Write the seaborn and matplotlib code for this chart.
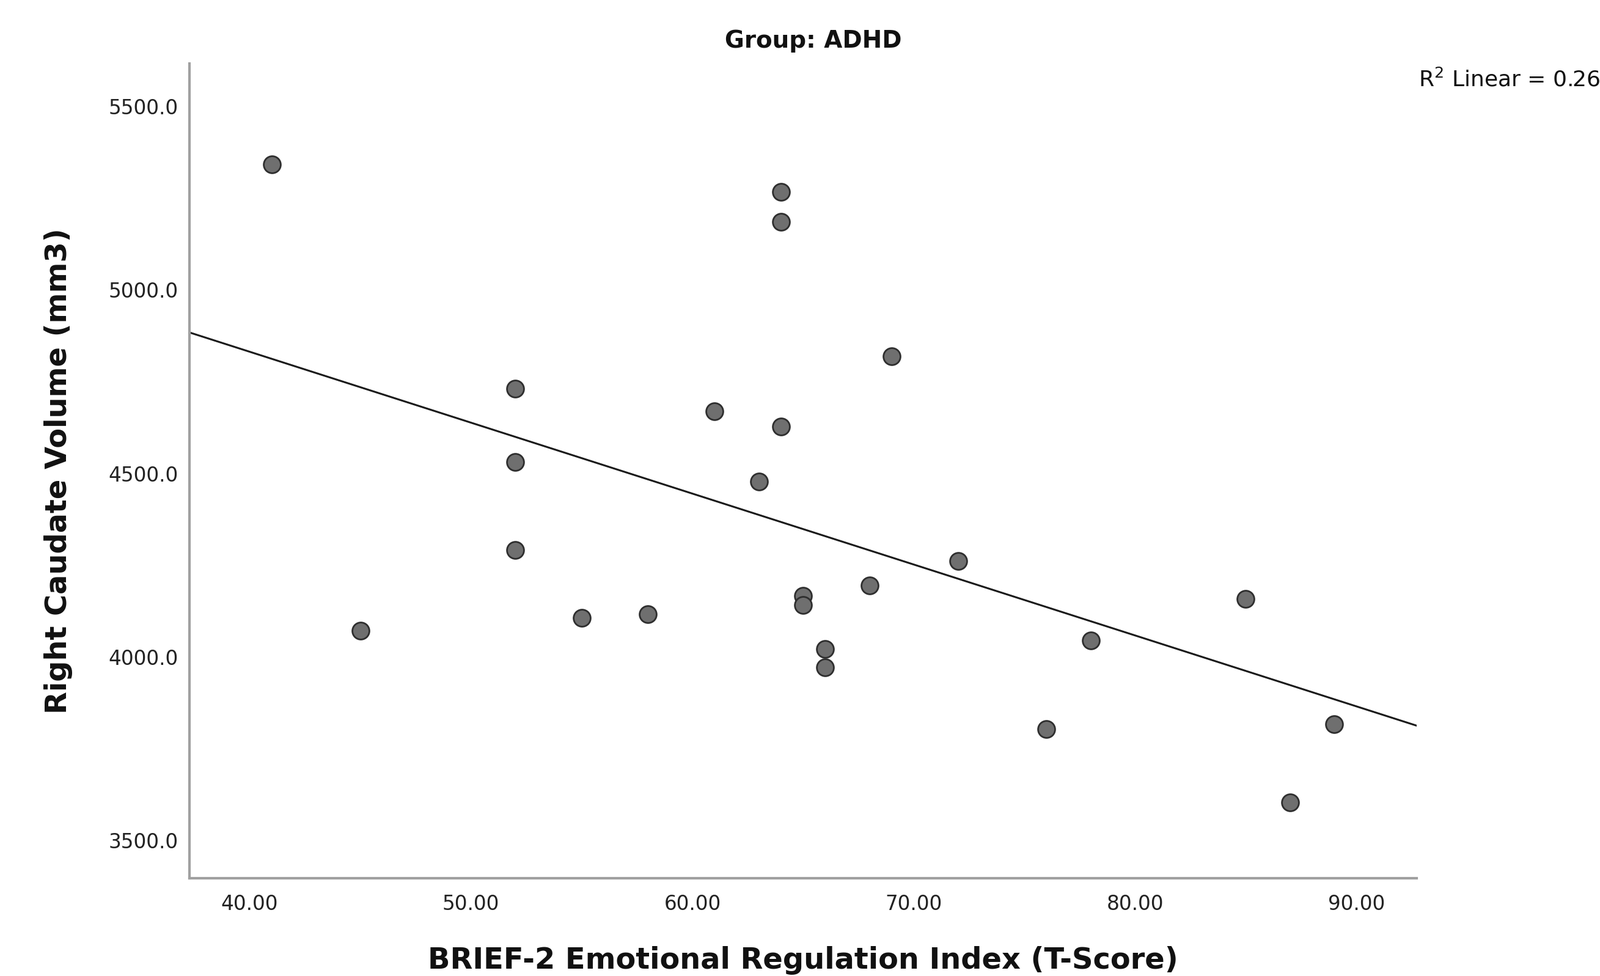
import numpy as np
import pandas as pd
import matplotlib
matplotlib.use("Agg")
import matplotlib.pyplot as plt
import seaborn as sns
from matplotlib.ticker import FormatStrFormatter

# values
brief_er = [41, 45, 52, 52, 52, 55, 58, 61, 63, 64, 64, 64,
            65, 65, 66, 66, 68, 69, 72, 76, 78, 85, 87, 89]
caudate_r = [5342, 4072, 4731, 4531, 4292, 4106, 4117, 4669, 4478, 5267, 5186, 4628,
             4167, 4142, 4022, 3972, 4194, 4819, 4261, 3803, 4044, 4158, 3603, 3817]

X_TICKS = [40, 50, 60, 70, 80, 90]
Y_TICKS = [3500, 4000, 4500, 5000, 5500]

df = pd.DataFrame({"ERI": brief_er, "RCaud": caudate_r})

sns.set_theme(style="white")
plt.rcParams["font.family"] = ["DejaVu Sans"]

fig = plt.figure(figsize=(26.18, 15.97), dpi=100)
ax = fig.add_axes([0.1184, 0.1002, 0.767, 0.8347])

# limits first so the fit line spans the whole plot area
ax.set_xlim(37.28, 92.72)
ax.set_ylim(3397, 5617)

sns.regplot(
    data=df, x="ERI", y="RCaud", ax=ax, ci=None, truncate=False,
    scatter_kws={"s": 400, "color": "#6f6f6f", "edgecolor": "#2e2e2e", "linewidths": 2, "alpha": 1},
    line_kws={"color": "#1a1a1a", "linewidth": 2.2},
)

r2 = np.corrcoef(df["ERI"], df["RCaud"])[0, 1] ** 2

ax.set_xticks(X_TICKS)
ax.set_yticks(Y_TICKS)
ax.xaxis.set_major_formatter(FormatStrFormatter("%.2f"))
ax.yaxis.set_major_formatter(FormatStrFormatter("%.1f"))
ax.tick_params(axis="both", length=0, labelsize=23.5, colors="#222222")
ax.tick_params(axis="x", pad=19)
ax.tick_params(axis="y", pad=13)

for side in ["top", "right"]:
    ax.spines[side].set_visible(False)
for side in ["left", "bottom"]:
    ax.spines[side].set_color("#a0a0a0")
    ax.spines[side].set_linewidth(3)

ax.set_xlabel("BRIEF-2 Emotional Regulation Index (T-Score)", fontsize=34.5, fontweight="bold", color="#111111")
ax.set_ylabel("Right Caudate Volume (mm3)", fontsize=34.5, fontweight="bold", color="#111111")
ax.xaxis.set_label_coords(0.5, -0.083)
ax.yaxis.set_label_coords(-0.095, 0.5)

fig.text(0.5083, 0.958, "Group: ADHD", ha="center", va="center", fontsize=28, fontweight="bold", color="#111111")
# sits against the right edge, as in the reference
fig.text(0.8866, 0.9186, f"R$^2$ Linear = {r2:.3f}", ha="left", va="center", fontsize=26, color="#111111")

fig.savefig("out.png", dpi=100)
